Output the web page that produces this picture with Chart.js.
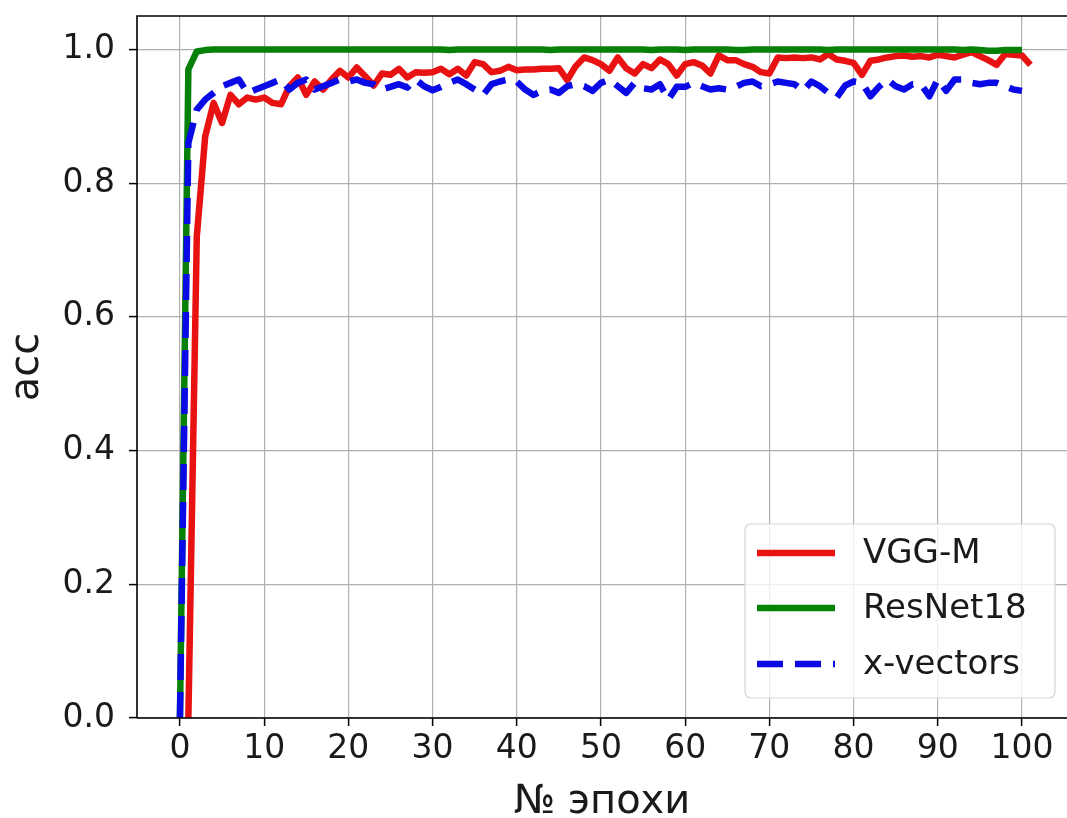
<!DOCTYPE html>
<html>
<head>
<meta charset="utf-8">
<script src="https://cdn.jsdelivr.net/npm/chart.js@4/dist/chart.umd.min.js"></script>
<style>
  html, body { margin: 0; padding: 0; background: #ffffff; }
  #wrap { width: 1067px; height: 818px; position: relative; }
</style>
</head>
<body>
<div id="wrap"><canvas id="c" width="1067" height="818"></canvas></div>
<script>
// ---- data ----
const seriesNames = ['VGG-M', 'ResNet18', 'x-vectors'];
const vggStartEpoch = 1;
const resnetStartEpoch = 0;
const xvecStartEpoch = 0;

const vggAcc = [
  0.0, 0.72, 0.87, 0.92, 0.89, 0.932, 0.918, 0.928, 0.925, 0.928,
  0.92, 0.918, 0.945, 0.958, 0.932, 0.952, 0.94, 0.955, 0.968, 0.958,
  0.973, 0.96, 0.946, 0.964, 0.962, 0.971, 0.958, 0.966, 0.965, 0.966,
  0.971, 0.963, 0.971, 0.961, 0.981, 0.978, 0.966, 0.968, 0.974, 0.969,
  0.970, 0.970, 0.971, 0.971, 0.972, 0.954, 0.975, 0.988, 0.984, 0.978,
  0.968, 0.988, 0.972, 0.964, 0.978, 0.972, 0.985, 0.978, 0.961, 0.978,
  0.981, 0.976, 0.964, 0.991, 0.984, 0.984, 0.978, 0.974, 0.966, 0.964,
  0.988, 0.987, 0.988, 0.987, 0.988, 0.985, 0.993, 0.985, 0.983, 0.980,
  0.962, 0.983, 0.985, 0.988, 0.990, 0.991, 0.989, 0.990, 0.988, 0.992,
  0.990, 0.988, 0.992, 0.996, 0.990, 0.984, 0.977, 0.993, 0.992, 0.991,
  0.977
];

const resnetAcc = [
  0.0, 0.97, 0.997, 0.999, 1.0, 1.0, 1.0, 1.0, 1.0, 1.0,
  1.0, 1.0, 1.0, 1.0, 1.0, 1.0, 1.0, 1.0, 1.0, 1.0,
  1.0, 1.0, 1.0, 1.0, 1.0, 1.0, 1.0, 1.0, 1.0, 1.0,
  1.0, 1.0, 0.999, 1.0, 1.0, 1.0, 1.0, 1.0, 1.0, 1.0,
  1.0, 1.0, 1.0, 1.0, 0.999, 1.0, 1.0, 1.0, 1.0, 1.0,
  1.0, 1.0, 1.0, 1.0, 1.0, 1.0, 0.999, 1.0, 1.0, 1.0,
  0.999, 1.0, 1.0, 1.0, 1.0, 1.0, 0.999, 0.999, 1.0, 1.0,
  1.0, 1.0, 1.0, 1.0, 1.0, 1.0, 1.0, 0.999, 1.0, 1.0,
  1.0, 1.0, 1.0, 1.0, 1.0, 1.0, 1.0, 1.0, 1.0, 1.0,
  1.0, 1.0, 1.0, 0.999, 1.0, 0.999, 0.998, 0.998, 0.999, 0.999,
  0.999
];

const xvecAcc = [
  0.0, 0.86, 0.91, 0.925, 0.935, 0.945, 0.95, 0.955, 0.935, 0.94,
  0.945, 0.95, 0.955, 0.94, 0.95, 0.955, 0.94, 0.945, 0.95, 0.955,
  0.952, 0.955, 0.95, 0.948, 0.94, 0.944, 0.948, 0.943, 0.955, 0.945,
  0.939, 0.944, 0.95, 0.955, 0.948, 0.94, 0.932, 0.948, 0.952, 0.955,
  0.952, 0.94, 0.932, 0.938, 0.94, 0.935, 0.945, 0.948, 0.945, 0.938,
  0.95, 0.955, 0.945, 0.935, 0.95, 0.942, 0.94, 0.948, 0.925, 0.944,
  0.944, 0.95, 0.945, 0.94, 0.942, 0.94, 0.944, 0.95, 0.952, 0.945,
  0.948, 0.952, 0.95, 0.948, 0.938, 0.952, 0.945, 0.935, 0.928, 0.946,
  0.952, 0.95, 0.93, 0.944, 0.955, 0.945, 0.94, 0.948, 0.948, 0.93,
  0.955, 0.938, 0.955, 0.955, 0.95, 0.948, 0.95, 0.95, 0.945, 0.94,
  0.938
];

const xTickValues = [0, 10, 20, 30, 40, 50, 60, 70, 80, 90, 100];
const yTickValues = [0.0, 0.2, 0.4, 0.6, 0.8, 1.0];
const xAxisTitle = '№ эпохи';
const yAxisTitle = 'acc';

// ---- build library structures ----
function toPoints(values, start) {
  return values.map((v, i) => ({ x: start + i, y: v }));
}

const FONT = "'DejaVu Sans', sans-serif";

const framePlugin = {
  id: 'frame',
  afterDatasetsDraw(chart) {
    const { ctx, chartArea: a } = chart;
    ctx.save();
    ctx.strokeStyle = '#000';
    ctx.lineWidth = 1.6;
    ctx.beginPath();
    ctx.moveTo(a.left, a.bottom);
    ctx.lineTo(a.left, a.top);
    ctx.lineTo(a.right, a.top);
    ctx.moveTo(a.left, a.bottom);
    ctx.lineTo(a.right, a.bottom);
    ctx.stroke();
    ctx.restore();
  }
};

const legendPlugin = {
  id: 'boxLegend',
  afterDraw(chart) {
    const { ctx } = chart;
    const x0 = 745, y0 = 524, w = 310, h = 174, r = 6;
    ctx.save();
    ctx.beginPath();
    ctx.moveTo(x0 + r, y0);
    ctx.arcTo(x0 + w, y0, x0 + w, y0 + h, r);
    ctx.arcTo(x0 + w, y0 + h, x0, y0 + h, r);
    ctx.arcTo(x0, y0 + h, x0, y0, r);
    ctx.arcTo(x0, y0, x0 + w, y0, r);
    ctx.closePath();
    ctx.fillStyle = 'rgba(255,255,255,0.8)';
    ctx.fill();
    ctx.strokeStyle = '#d6d6d6';
    ctx.lineWidth = 1.2;
    ctx.stroke();
    const rows = [553, 608, 664];
    chart.data.datasets.forEach((ds, i) => {
      const y = rows[i];
      ctx.beginPath();
      ctx.setLineDash(ds.borderDash || []);
      ctx.lineWidth = ds.borderWidth;
      ctx.strokeStyle = ds.borderColor;
      ctx.lineCap = 'butt';
      ctx.moveTo(757, y);
      ctx.lineTo(835, y);
      ctx.stroke();
      ctx.setLineDash([]);
      ctx.fillStyle = '#1a1a1a';
      ctx.font = '34px ' + FONT;
      ctx.textBaseline = 'middle';
      ctx.textAlign = 'left';
      ctx.fillText(ds.label, 863, y + 1);
    });
    ctx.restore();
  }
};

new Chart(document.getElementById('c'), {
  type: 'line',
  data: {
    datasets: [
      {
        label: seriesNames[0],
        data: toPoints(vggAcc, vggStartEpoch),
        borderColor: '#e81212',
        borderWidth: 6.5,
        order: 2
      },
      {
        label: seriesNames[1],
        data: toPoints(resnetAcc, resnetStartEpoch),
        borderColor: '#078007',
        borderWidth: 6.5,
        order: 1
      },
      {
        label: seriesNames[2],
        data: toPoints(xvecAcc, xvecStartEpoch),
        borderColor: '#0a0ae6',
        borderWidth: 6.5,
        borderDash: [26, 12],
        order: 0
      }
    ]
  },
  options: {
    responsive: false,
    animation: false,
    events: [],
    layout: { padding: { top: 16, right: 0, bottom: 0, left: 0 } },
    elements: {
      point: { radius: 0 },
      line: { tension: 0, borderJoinStyle: 'round', borderCapStyle: 'butt', fill: false }
    },
    plugins: {
      legend: { display: false },
      tooltip: { enabled: false },
      title: { display: false }
    },
    scales: {
      x: {
        type: 'linear',
        min: -5.1,
        max: 105.35,
        afterBuildTicks(scale) { scale.ticks = xTickValues.map(v => ({ value: v })); },
        afterFit(scale) { scale.height = 100; scale.paddingLeft = 0; scale.paddingRight = 0; },
        grid: { color: '#b0b0b0', lineWidth: 1.2, tickColor: '#000', tickLength: 8, tickWidth: 1.5, drawTicks: true },
        border: { display: false },
        ticks: {
          color: '#1a1a1a',
          font: { family: FONT, size: 33 },
          padding: 4,
          maxRotation: 0,
          autoSkip: false,
          callback: v => String(v)
        },
        title: {
          display: true,
          text: xAxisTitle,
          color: '#1a1a1a',
          font: { family: FONT, size: 40 },
          padding: { top: 0, bottom: -9 }
        }
      },
      y: {
        type: 'linear',
        min: 0,
        max: 1.05,
        afterBuildTicks(scale) { scale.ticks = yTickValues.map(v => ({ value: v })); },
        afterFit(scale) { scale.width = 137; scale.paddingTop = 0; scale.paddingBottom = 0; },
        grid: { color: '#b0b0b0', lineWidth: 1.2, tickColor: '#000', tickLength: 8, tickWidth: 1.5, drawTicks: true },
        border: { display: false },
        ticks: {
          color: '#1a1a1a',
          font: { family: FONT, size: 33 },
          padding: 14,
          autoSkip: false,
          callback: v => Number(v).toFixed(1)
        },
        title: {
          display: true,
          text: yAxisTitle,
          color: '#1a1a1a',
          font: { family: FONT, size: 40 },
          padding: { top: 4, bottom: 0 }
        }
      }
    }
  },
  plugins: [framePlugin, legendPlugin]
});
</script>
</body>
</html>
